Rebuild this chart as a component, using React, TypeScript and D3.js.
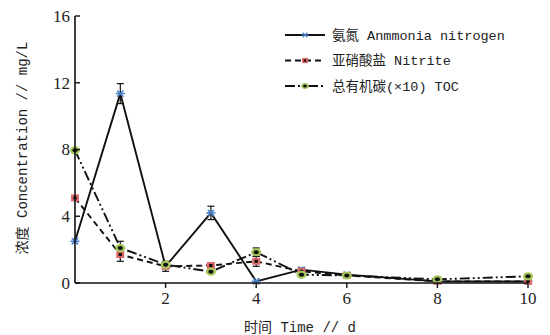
import { useMemo } from 'react';
import * as d3 from 'd3';

const days = [0, 1, 2, 3, 4, 5, 6, 8, 10];
const ammonia = [2.5, 11.35, 1.0, 4.2, 0.1, 0.8, 0.5, 0.1, 0.1];
const ammoniaErr = [0, 0.6, 0.3, 0.4, 0, 0.1, 0.1, 0, 0];
const nitrite = [5.1, 1.7, 1.0, 1.05, 1.3, 0.7, 0.45, 0.1, 0.1];
const nitriteErr = [0, 0.4, 0.1, 0.1, 0.3, 0.1, 0.1, 0, 0];
const toc = [7.95, 2.1, 1.1, 0.68, 1.85, 0.5, 0.45, 0.22, 0.4];
const tocErr = [0, 0.4, 0.1, 0.05, 0.25, 0.05, 0.05, 0.05, 0.05];
const xTicks = [2, 4, 6, 8, 10];
const yTicks = [0, 4, 8, 12, 16];

const legendLabels = ['氨氮 Anmmonia nitrogen', '亚硝酸盐 Nitrite', '总有机碳(×10) TOC'];

const W = 550;
const H = 335;
const margin = { left: 75, right: 22, top: 16, bottom: 52 };

const latin = '"Liberation Serif", "Noto Sans CJK SC", serif';
const mixed = '"Liberation Mono", "Noto Sans CJK SC", monospace';

type Series = { values: number[]; err: number[]; dash: string; marker: 'star' | 'square' | 'circle' };

const series: Series[] = [
  { values: ammonia, err: ammoniaErr, dash: '', marker: 'star' },
  { values: nitrite, err: nitriteErr, dash: '6 4', marker: 'square' },
  { values: toc, err: tocErr, dash: '10 3 2 3 2 3', marker: 'circle' },
];

function Marker({ kind, x, y }: { kind: string; x: number; y: number }) {
  if (kind === 'star') {
    const r = 4.5;
    return (
      <g stroke="#4a80c8" strokeWidth={1.6}>
        <line x1={x - r} y1={y} x2={x + r} y2={y} />
        <line x1={x - r * 0.7} y1={y - r * 0.7} x2={x + r * 0.7} y2={y + r * 0.7} />
        <line x1={x - r * 0.7} y1={y + r * 0.7} x2={x + r * 0.7} y2={y - r * 0.7} />
      </g>
    );
  }
  if (kind === 'square') {
    return (
      <g>
        <rect x={x - 4} y={y - 3.5} width={8} height={7} fill="#e06a6a" />
        <rect x={x - 1.7} y={y - 1.5} width={3.4} height={3} fill="#111" />
      </g>
    );
  }
  return (
    <g>
      <ellipse cx={x} cy={y} rx={5} ry={4} fill="#a4c85a" />
      <ellipse cx={x} cy={y} rx={2.6} ry={2} fill="#111" />
    </g>
  );
}

export default function App() {
  const x = useMemo(() => d3.scaleLinear().domain([0, 10]).range([margin.left, W - margin.right]), []);
  const y = useMemo(() => d3.scaleLinear().domain([0, 16]).range([H - margin.bottom, margin.top]), []);
  const line = d3
    .line<number>()
    .x((_, i) => x(days[i]))
    .y((d) => y(d));

  return (
    <svg width={W} height={H} style={{ position: 'absolute', left: 0, top: 0, background: '#fff' }}>
      {/* series lines */}
      {series.map((s, k) => (
        <path key={k} d={line(s.values) || ''} fill="none" stroke="#111" strokeWidth={1.9} strokeDasharray={s.dash} />
      ))}
      {/* error bars */}
      {series.map((s, k) =>
        s.values.map((v, i) =>
          s.err[i] > 0 ? (
            <g key={`e${k}-${i}`} stroke="#111" strokeWidth={1.2}>
              <line x1={x(days[i])} x2={x(days[i])} y1={y(v - s.err[i])} y2={y(v + s.err[i])} />
              <line x1={x(days[i]) - 3.5} x2={x(days[i]) + 3.5} y1={y(v + s.err[i])} y2={y(v + s.err[i])} />
              <line x1={x(days[i]) - 3.5} x2={x(days[i]) + 3.5} y1={y(v - s.err[i])} y2={y(v - s.err[i])} />
            </g>
          ) : null
        )
      )}
      {/* markers */}
      {series.map((s, k) =>
        s.values.map((v, i) => <Marker key={`m${k}-${i}`} kind={s.marker} x={x(days[i])} y={y(v)} />)
      )}

      {/* axes */}
      <line x1={x(0)} x2={x(10)} y1={y(0)} y2={y(0)} stroke="#111" strokeWidth={1.6} />
      <line x1={x(0)} x2={x(0)} y1={y(0)} y2={y(16)} stroke="#111" strokeWidth={1.6} />
      {yTicks.map((t) => (
        <g key={`y${t}`}>
          <line x1={x(0)} x2={x(0) + 5} y1={y(t)} y2={y(t)} stroke="#111" strokeWidth={1.4} />
          <text x={x(0) - 5} y={y(t)} dy="0.35em" textAnchor="end" fontFamily={latin} fontSize={17} fill="#222">
            {t}
          </text>
        </g>
      ))}
      {xTicks.map((t) => (
        <g key={`x${t}`}>
          <line x1={x(t)} x2={x(t)} y1={y(0)} y2={y(0) + 5} stroke="#111" strokeWidth={1.4} />
          <text x={x(t)} y={y(0) + 15} dy="0.35em" textAnchor="middle" fontFamily={latin} fontSize={17} fill="#222">
            {t}
          </text>
        </g>
      ))}
      <text x={300} y={327} dy="0.35em" textAnchor="middle" fontFamily={mixed} fontSize={14} fill="#222">
        时间 Time // d
      </text>
      <text
        transform={`translate(22, 148) rotate(-90)`}
        dy="0.35em"
        textAnchor="middle"
        fontFamily={mixed}
        fontSize={14}
        fill="#222"
      >
        浓度 Concentration // mg/L
      </text>

      {/* legend */}
      {series.map((s, k) => {
        const ly = 35 + k * 25.5;
        return (
          <g key={`l${k}`}>
            <line x1={285} x2={325} y1={ly} y2={ly} stroke="#111" strokeWidth={1.8} strokeDasharray={s.dash} />
            <g transform={`translate(305, ${ly}) scale(0.75)`}>
              <Marker kind={s.marker} x={0} y={0} />
            </g>
            <text x={332} y={ly} dy="0.35em" fontFamily={mixed} fontSize={13.5} fill="#222">
              {legendLabels[k]}
            </text>
          </g>
        );
      })}
    </svg>
  );
}
